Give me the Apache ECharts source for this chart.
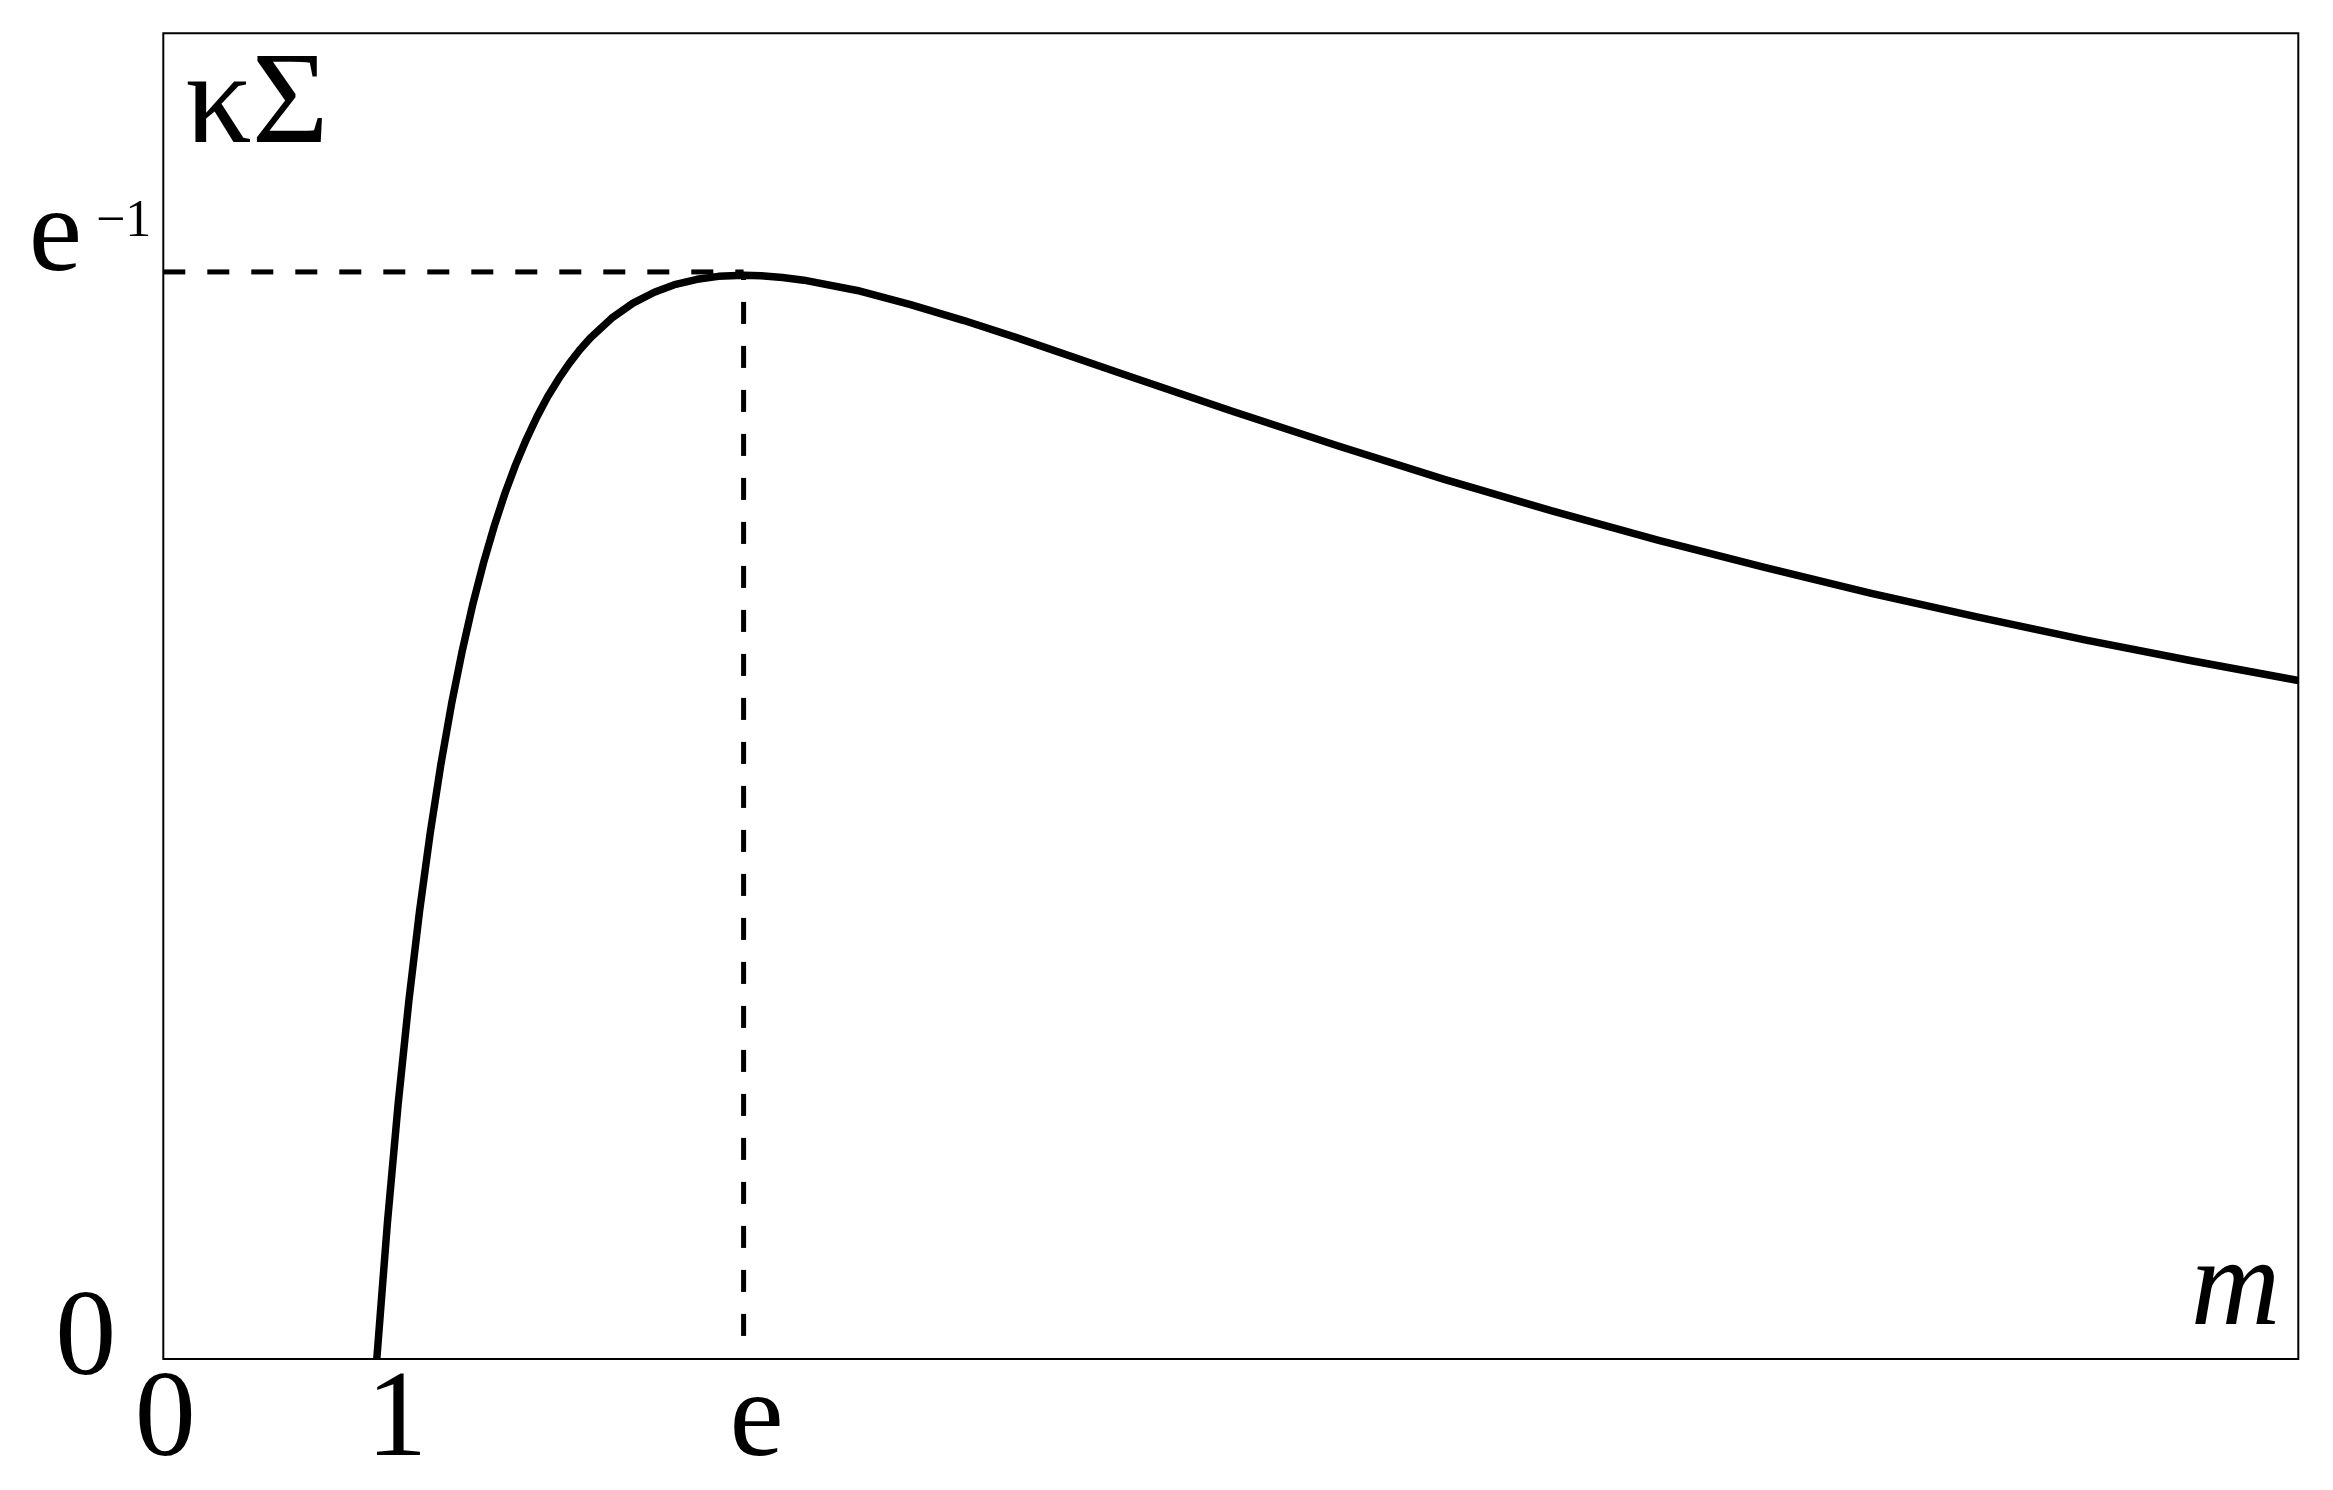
<!DOCTYPE html>
<html>
<head>
<meta charset="utf-8">
<script src="https://cdn.jsdelivr.net/npm/echarts@6/dist/echarts.min.js"></script>
<style>
html,body{margin:0;padding:0;background:#fff;}
#chart{width:2333px;height:1490px;}
</style>
</head>
<body>
<div id="chart"></div>
<script>
// ---- data ----
const mValues = [1.0, 1.05, 1.1, 1.15, 1.2, 1.25, 1.3, 1.35, 1.4, 1.45, 1.5, 1.55, 1.6, 1.65, 1.7, 1.75, 1.8, 1.85, 1.9, 1.95, 2.0, 2.1, 2.2, 2.3, 2.4, 2.5, 2.6, 2.718, 2.8, 2.9, 3.0, 3.25, 3.5, 3.75, 4.0, 4.5, 5.0, 5.5, 6.0, 6.5, 7.0, 7.5, 8.0, 8.5, 9.0, 9.5, 10.0];
const kSigmaValues = [0.0000, 0.0465, 0.0866, 0.1215, 0.1519, 0.1785, 0.2018, 0.2223, 0.2403, 0.2563, 0.2703, 0.2827, 0.2938, 0.3035, 0.3121, 0.3198, 0.3266, 0.3325, 0.3378, 0.3425, 0.3466, 0.3533, 0.3584, 0.3621, 0.3648, 0.3665, 0.3675, 0.3679, 0.3677, 0.3671, 0.3662, 0.3627, 0.3579, 0.3525, 0.3466, 0.3342, 0.3219, 0.3100, 0.2986, 0.2880, 0.2780, 0.2687, 0.2599, 0.2518, 0.2441, 0.2370, 0.2303];
const peakM = [0, 2.718];          // horizontal guide from m=0 to m=e
const peakLevel = [0.369, 0.369];  // level e^-1
const guideM = [2.718, 2.718];     // vertical guide at m=e
const guideLevel = [0.369, 0];
const xTickValues = [0, 1, 2.718];
const xTickLabels = ['0', '1', 'e'];
const yTickValues = [0, 0.369];
const yTickLabels = ['0', 'e\u22121'];
const xAxisName = 'm';
const yAxisName = '\u03BA\u03A3';

const FONT = '"Liberation Serif", serif';

function pick(vals, labels, v) {
  let best = 0, d = Infinity;
  for (let i = 0; i < vals.length; i++) {
    const dd = Math.abs(vals[i] - v);
    if (dd < d) { d = dd; best = i; }
  }
  return labels[best];
}

const curve = mValues.map((m, i) => [m, kSigmaValues[i]]);
const hGuide = peakM.map((m, i) => [m, peakLevel[i]]);
const vGuide = guideM.map((m, i) => [m, guideLevel[i]]);

const chart = echarts.init(document.getElementById('chart'), null, {renderer: 'canvas'});
chart.setOption({
  backgroundColor: '#ffffff',
  animation: false,
  grid: {
    left: 163.3, right: 34.7, top: 33.3, bottom: 131,
    show: true, borderColor: '#000', borderWidth: 2, backgroundColor: 'transparent'
  },
  xAxis: {
    type: 'value', min: 0, max: 10,
    axisLine: {show: false}, axisTick: {show: false}, splitLine: {show: false},
    name: xAxisName, nameLocation: 'end', nameGap: -18,
    nameTextStyle: {
      fontFamily: FONT, fontStyle: 'italic', fontSize: 124, lineHeight: 120, color: '#000',
      align: 'right', verticalAlign: 'bottom', padding: [0, 0, 8, 0]
    },
    axisLabel: {
      customValues: xTickValues,
      margin: 4,
      fontFamily: FONT, fontSize: 122, lineHeight: 120, color: '#000',
      formatter: function (v) {
        const t = pick(xTickValues, xTickLabels, v);
        if (t === '1') return '{one|1}';
        if (t === 'e') return '{ee|e}';
        return '{zero|' + t + '}';
      },
      rich: {
        zero: {fontFamily: FONT, fontSize: 122, lineHeight: 120, color: '#000', padding: [0, 0, 0, 4]},
        one: {fontFamily: FONT, fontSize: 122, lineHeight: 120, color: '#000', padding: [0, 0, 0, 40]},
        ee: {fontFamily: FONT, fontSize: 122, lineHeight: 120, color: '#000', padding: [0, 0, 0, 26]}
      }
    }
  },
  yAxis: {
    type: 'value', min: 0, max: 0.45,
    axisLine: {show: false}, axisTick: {show: false}, splitLine: {show: false},
    name: yAxisName, nameLocation: 'end', nameGap: -14,
    nameTextStyle: {
      fontFamily: FONT, fontSize: 132, lineHeight: 120, color: '#000',
      align: 'left', verticalAlign: 'top', padding: [0, 0, 0, 22]
    },
    axisLabel: {
      customValues: yTickValues,
      margin: 12,
      fontFamily: FONT, fontSize: 122, lineHeight: 120, color: '#000',
      formatter: function (v) {
        const t = pick(yTickValues, yTickLabels, v);
        if (t === '0') return '{z|0}';
        return '{b|e}{s|\u22121}';
      },
      rich: {
        z: {fontFamily: FONT, fontSize: 122, lineHeight: 120, color: '#000', padding: [0, 35, 35, 0]},
        b: {fontFamily: FONT, fontSize: 120, lineHeight: 120, color: '#000', padding: [0, 0, 66, 0]},
        s: {fontFamily: FONT, fontSize: 52, lineHeight: 120, color: '#000', padding: [0, 0, 100, 14]}
      }
    }
  },
  series: [
    {
      type: 'line', data: curve, showSymbol: false, symbol: 'none',
      smooth: false, clip: true,
      lineStyle: {color: '#000', width: 7.5, join: 'round'}, z: 3
    },
    {
      type: 'line', data: hGuide, showSymbol: false, symbol: 'none',
      lineStyle: {color: '#000', width: 5, type: [22, 22], dashOffset: 0}, z: 2
    },
    {
      type: 'line', data: vGuide, showSymbol: false, symbol: 'none',
      lineStyle: {color: '#000', width: 5, type: [22, 22], dashOffset: 14}, z: 2
    }
  ]
});
</script>
</body>
</html>
